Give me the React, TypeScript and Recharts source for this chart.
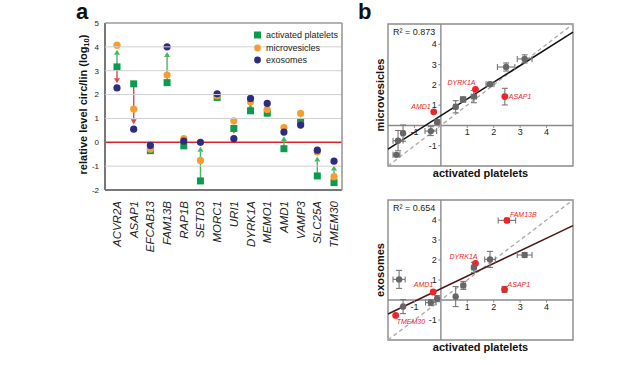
import React from "react";
import {
  ComposedChart,
  ScatterChart,
  Scatter,
  XAxis,
  YAxis,
  ReferenceLine,
  ReferenceArea,
  ReferenceDot,
  ErrorBar,
  Legend,
  Label,
} from "recharts";

const FONT = "'Liberation Sans', Arial, Helvetica, sans-serif";
const GREEN = "#0e9a4d";
const ORANGE = "#f59d2e";
const NAVY = "#2e2c7e";
const ARROW_UP = "#46b864";
const ARROW_DOWN = "#e5424b";
const RED = "#e8262c";
const GRAY = "#666";

// panel a
const genes = [
  "ACVR2A", "ASAP1", "EFCAB13", "FAM13B", "RAP1B", "SETD3", "MORC1",
  "URI1", "DYRK1A", "MEMO1", "AMD1", "VAMP3", "SLC25A", "TMEM30",
];
const platelets = [3.16, 2.45, -0.35, 2.5, -0.15, -1.62, 1.88, 0.58, 1.32, 1.22, -0.27, 0.86, -1.41, -1.69];
const microvesicles = [4.07, 1.39, -0.29, 2.82, 0.15, -0.76, 1.95, 0.9, 1.7, 1.37, 0.62, 1.21, -0.41, -1.44];
const exosomes = [2.28, 0.55, -0.13, 4.0, 0.05, 0.0, 2.03, 0.15, 1.84, 1.63, 0.43, 0.72, -0.33, -0.79];
const yTicksA = [-2, -1, 0, 1, 2, 3, 4, 5];

// arrows: gene, start, arrowhead tip
const arrowGenes = ["ACVR2A", "ACVR2A", "ASAP1", "FAM13B", "SETD3", "URI1", "URI1", "DYRK1A", "AMD1", "VAMP3", "SLC25A", "TMEM30"];
const arrowFrom = [3.16, 3.16, 2.45, 2.5, -1.62, 0.58, 0.58, 1.32, -0.27, 0.86, -1.41, -1.69];
const arrowTo = [3.88, 2.47, 0.76, 3.78, -0.19, 0.76, 0.36, 1.6, 0.25, 1.05, -0.6, -0.97];

const legendNames = ["activated platelets", "microvesicles", "exosomes"];

// panel b
const mvPlt = [3.17, 2.42, -0.38, 2.47, -0.14, -1.62, 1.86, 0.56, 1.31, 1.25, -0.27, 0.84, -1.43, -1.68];
const mvVal = [3.28, 1.42, -0.28, 2.88, 0.17, -0.75, 2.03, 0.92, 1.78, 1.42, 0.67, 1.28, -0.38, -1.45];
const mvPltErr = [0.28, 0, 0.22, 0.33, 0.08, 0.19, 0.15, 0.08, 0, 0.1, 0, 0.1, 0.05, 0.13];
const mvValErr = [0.2, 0.41, 0.22, 0.2, 0.08, 0.5, 0.1, 0.3, 0, 0.3, 0, 0.13, 0.4, 0];
const mvHighlight = ["AMD1", "DYRK1A", "ASAP1"];
const mvFit = [{ x: -2, y: -1.17 }, { x: 5, y: 4.6 }];

const exPlt = [3.17, 2.41, -0.38, 2.5, -0.14, -1.58, 1.86, 0.56, 1.31, 1.25, -0.29, 0.85, -1.43, -1.71];
const exVal = [2.25, 0.53, -0.13, 3.98, 0.07, 1.03, 2.03, 0.17, 1.83, 1.63, 0.4, 0.73, -0.33, -0.77];
const exPltErr = [0.28, 0, 0.2, 0.33, 0.05, 0.23, 0.2, 0.05, 0, 0.08, 0, 0.08, 0.05, 0];
const exValErr = [0.12, 0.15, 0.15, 0.1, 0.15, 0.45, 0.4, 0.5, 0, 0.25, 0, 0.2, 0.35, 0];
const exHighlight = ["FAM13B", "DYRK1A", "AMD1", "ASAP1", "TMEM30"];
const exFit = [{ x: -2, y: -0.7 }, { x: 5, y: 3.72 }];

const bTicks = [-1, 1, 2, 3, 4];

// where the red gene names sit around their points
const mvLabelPos: Record<string, [number, number, string]> = {
  AMD1: [-3, -3, "end"],
  DYRK1A: [0, -4, "end"],
  ASAP1: [4, 2.5, "start"],
};
const exLabelPos: Record<string, [number, number, string]> = {
  FAM13B: [3, -3, "start"],
  DYRK1A: [2, -4, "end"],
  AMD1: [0, -5, "end"],
  ASAP1: [3, -2, "start"],
  TMEM30: [1, 9, "start"],
};

// panel a layout
const A_W = 350;
const A_H = 365;
const A_MARGIN = { top: 23, right: 8, bottom: 115, left: 58 };
const A_YAXIS_W = 47;
const A_XAXIS_H = 60;
const A_LEFT = A_MARGIN.left + A_YAXIS_W;
const A_RIGHT = A_W - A_MARGIN.right;
const A_PLOT_H = A_H - A_MARGIN.top - A_MARGIN.bottom - A_XAXIS_H;

const rowsA = genes.map((g, i) => ({
  gene: g,
  plt: platelets[i],
  mv: microvesicles[i],
  ex: exosomes[i],
}));

const Square = (p: any) => (
  <rect x={p.cx - 3.5} y={p.cy - 3.5} width={7} height={7} fill={GREEN} />
);
const OrangeDot = (p: any) => <circle cx={p.cx} cy={p.cy} r={3.6} fill={ORANGE} />;
const NavyDot = (p: any) => <circle cx={p.cx} cy={p.cy} r={3.6} fill={NAVY} />;

const drawArrow = (p: any, color: string) => {
  const { x1, y1, x2, y2 } = p;
  const dir = y2 > y1 ? 1 : -1;
  const head = 5;
  return (
    <g>
      <line x1={x1} y1={y1} x2={x2} y2={y2 - dir * head} stroke={color} strokeWidth={1.4} />
      <polygon
        points={`${x2},${y2} ${x2 - 3},${y2 - dir * head} ${x2 + 3},${y2 - dir * head}`}
        fill={color}
      />
    </g>
  );
};
const ArrowUp = (p: any) => drawArrow(p, ARROW_UP);
const ArrowDown = (p: any) => drawArrow(p, ARROW_DOWN);

const GeneTick = (p: any) => {
  const x = p.x + 4;
  const y = p.y + 3;
  return (
    <text x={x} y={y} transform={`rotate(-90 ${x} ${y})`} textAnchor="end" fontStyle="italic" fontSize={11.5} fill="#222">
      {p.payload.value}
    </text>
  );
};

// y tick: label plus the horizontal grid line; the top tick also closes the frame
const YTickA = (p: any) => {
  const v = p.payload.value;
  const top = v === yTicksA[yTicksA.length - 1];
  return (
    <g>
      {v !== 0 && v !== yTicksA[0] && (
        <line x1={A_LEFT} x2={A_RIGHT} y1={p.y} y2={p.y} stroke={top ? "#9a9a9a" : "#d0d0d0"} strokeWidth={top ? 1.6 : 1} />
      )}
      {top && <line x1={A_RIGHT} x2={A_RIGHT} y1={p.y} y2={p.y + A_PLOT_H} stroke="#9a9a9a" strokeWidth={1.6} />}
      <text x={p.x} y={p.y + 2.8} textAnchor="end" fontSize={8} fill="#222">
        {v}
      </text>
    </g>
  );
};

const YLabelA = (p: any) => {
  const vb = p.viewBox;
  const x = vb.x + 25;
  const y = vb.y + vb.height / 2 - 2;
  return (
    <text x={x} y={y} transform={`rotate(-90 ${x} ${y})`} textAnchor="middle" dominantBaseline="central" fontSize={11} fontWeight="bold" fill="#111">
      relative level circ/lin (log<tspan fontSize={7.5} dy={3}>10</tspan>
      <tspan dy={-3}>)</tspan>
    </text>
  );
};

const LegendA = () => (
  <div style={{ fontSize: 9, color: "#222", lineHeight: "12.5px" }}>
    {legendNames.map((n, i) => (
      <div key={n} style={{ display: "flex", alignItems: "center" }}>
        <svg width={10} height={8} style={{ marginRight: 3 }}>
          {i === 0 ? (
            <rect x={1} y={0.5} width={7} height={7} fill={GREEN} />
          ) : (
            <circle cx={4.5} cy={4} r={3.4} fill={i === 1 ? ORANGE : NAVY} />
          )}
        </svg>
        {n}
      </div>
    ))}
  </div>
);

function PanelA() {
  return (
    <ComposedChart width={A_W} height={A_H} data={rowsA} margin={A_MARGIN}>
      <XAxis
        dataKey="gene"
        interval={0}
        padding={{ left: 12, right: 8 }}
        tickLine={false}
        axisLine={{ stroke: "#777", strokeWidth: 2 }}
        height={A_XAXIS_H}
        tick={<GeneTick />}
      />
      <YAxis
        domain={[-2, 5]}
        ticks={yTicksA}
        interval={0}
        width={A_YAXIS_W}
        tickLine={false}
        tickMargin={0}
        axisLine={{ stroke: "#777", strokeWidth: 2 }}
        tick={<YTickA />}
        label={<Label content={YLabelA} />}
      />
      <ReferenceLine y={0} stroke="#d9242d" strokeWidth={1.5} />
      {arrowGenes.map((g, i) => (
        <ReferenceLine
          key={"arr" + i}
          segment={[{ x: g, y: arrowFrom[i] }, { x: g, y: arrowTo[i] }]}
          shape={arrowTo[i] > arrowFrom[i] ? ArrowUp : ArrowDown}
        />
      ))}
      <Scatter dataKey="plt" name={legendNames[0]} fill={GREEN} shape={Square} isAnimationActive={false} />
      <Scatter dataKey="mv" name={legendNames[1]} fill={ORANGE} shape={OrangeDot} isAnimationActive={false} />
      <Scatter dataKey="ex" name={legendNames[2]} fill={NAVY} shape={NavyDot} isAnimationActive={false} />
      <Legend
        layout="vertical"
        align="center"
        verticalAlign="middle"
        content={<LegendA />}
        wrapperStyle={{ top: 29, left: 253, width: "auto" }}
      />
    </ComposedChart>
  );
}

function ScatterPanel(props: {
  x: number[];
  y: number[];
  xe: number[];
  ye: number[];
  highlight: string[];
  labelPos: Record<string, [number, number, string]>;
  fit: { x: number; y: number }[];
  fitColor: string;
  r2: string;
  yTitle: string;
  height: number;
  margin: { top: number; right: number; bottom: number; left: number };
  xAxisHeight: number;
}) {
  const rows = genes.map((g, i) => ({
    gene: g,
    x: props.x[i],
    y: props.y[i],
    xe: props.xe[i],
    ye: props.ye[i],
  }));
  const PointShape = (p: any) => {
    const g = p.payload.gene;
    if (!props.highlight.includes(g)) return <circle cx={p.cx} cy={p.cy} r={3.2} fill={GRAY} />;
    const pos = props.labelPos[g];
    return (
      <g>
        <circle cx={p.cx} cy={p.cy} r={3.4} fill={RED} />
        <text x={p.cx + pos[0]} y={p.cy + pos[1]} textAnchor={pos[2] as any} fontSize={7} fontStyle="italic" fill={RED}>
          {g}
        </text>
      </g>
    );
  };
  const XTick = (t: number) => (p: any) => (
    <g>
      <line x1={p.cx} y1={p.cy} x2={p.cx} y2={p.cy + 2.5} stroke="#888" />
      <text x={p.cx} y={p.cy + 10} textAnchor="middle" fontSize={9} fill="#222">{t}</text>
    </g>
  );
  const YTick = (t: number) => (p: any) => (
    <g>
      <line x1={p.cx - 2.5} y1={p.cy} x2={p.cx} y2={p.cy} stroke="#888" />
      <text x={p.cx - 4} y={p.cy + 3.2} textAnchor="end" fontSize={9} fill="#222">{t}</text>
    </g>
  );
  return (
    <ScatterChart width={240} height={props.height} margin={props.margin}>
      <XAxis
        type="number"
        dataKey="x"
        domain={[-2, 5]}
        allowDataOverflow
        tick={false}
        tickLine={false}
        axisLine={false}
        height={props.xAxisHeight}
        label={
          <Label
            content={(p: any) => (
              <text x={p.viewBox.x + p.viewBox.width / 2} y={p.viewBox.y + 11} textAnchor="middle" fontSize={11} fontWeight="bold" fill="#111">
                activated platelets
              </text>
            )}
          />
        }
      />
      <YAxis
        type="number"
        dataKey="y"
        domain={[-2, 5]}
        allowDataOverflow
        tick={false}
        tickLine={false}
        axisLine={false}
        width={20}
        label={
          <Label
            content={(p: any) => {
              const cx = p.viewBox.x + 12;
              const cy = p.viewBox.y + p.viewBox.height / 2;
              return (
                <text x={cx} y={cy} transform={`rotate(-90 ${cx} ${cy})`} textAnchor="middle" dominantBaseline="central" fontSize={11} fontWeight="bold" fill="#111">
                  {props.yTitle}
                </text>
              );
            }}
          />
        }
      />
      <ReferenceArea
        x1={-2}
        x2={5}
        y1={-2}
        y2={5}
        fill="none"
        stroke="#8a8a8a"
        strokeWidth={1.4}
        label={{ value: props.r2, position: "insideTopLeft", offset: 5, fontSize: 9, fill: "#222" }}
      />
      <ReferenceLine x={0} stroke="#8a8a8a" strokeWidth={1.4} />
      <ReferenceLine y={0} stroke="#8a8a8a" strokeWidth={1.4} />
      {bTicks.map((t) => (
        <ReferenceDot key={"xt" + t} x={t} y={0} r={2} shape={XTick(t)} />
      ))}
      {bTicks.map((t) => (
        <ReferenceDot key={"yt" + t} x={0} y={t} r={2} shape={YTick(t)} />
      ))}
      <ReferenceLine
        segment={[{ x: -2, y: -2 }, { x: 5, y: 5 }]}
        stroke="#a8a8a8"
        strokeWidth={1.3}
        strokeDasharray="4 3"
      />
      <ReferenceLine segment={props.fit} stroke={props.fitColor} strokeWidth={1.5} />
      <Scatter data={rows} shape={PointShape} isAnimationActive={false}>
        <ErrorBar dataKey="xe" direction="x" width={3} stroke="#777" strokeWidth={1.1} />
        <ErrorBar dataKey="ye" direction="y" width={3} stroke="#777" strokeWidth={1.1} />
      </Scatter>
    </ScatterChart>
  );
}

export default function App() {
  return (
    <div style={{ position: "absolute", left: 0, top: 0, width: 620, height: 365, background: "#fff", fontFamily: FONT }}>
      <div style={{ position: "absolute", left: 0, top: 0 }}>
        <PanelA />
      </div>
      <div style={{ position: "absolute", left: 350, top: 0 }}>
        <ScatterPanel
          x={mvPlt}
          y={mvVal}
          xe={mvPltErr}
          ye={mvValErr}
          highlight={mvHighlight}
          labelPos={mvLabelPos}
          fit={mvFit}
          fitColor="#111"
          r2="R² = 0.873"
          yTitle="microvesicles"
          height={185}
          margin={{ top: 24, right: 17, bottom: 0, left: 18 }}
          xAxisHeight={19}
        />
      </div>
      <div style={{ position: "absolute", left: 350, top: 185 }}>
        <ScatterPanel
          x={exPlt}
          y={exVal}
          xe={exPltErr}
          ye={exValErr}
          highlight={exHighlight}
          labelPos={exLabelPos}
          fit={exFit}
          fitColor="#4d1518"
          r2="R² = 0.654"
          yTitle="exosomes"
          height={180}
          margin={{ top: 15, right: 17, bottom: 5, left: 18 }}
          xAxisHeight={20}
        />
      </div>
      <div style={{ position: "absolute", left: 76, top: 1, fontSize: 22, fontWeight: "bold", lineHeight: "22px", color: "#111" }}>a</div>
      <div style={{ position: "absolute", left: 358, top: 1, fontSize: 22, fontWeight: "bold", lineHeight: "22px", color: "#111" }}>b</div>
    </div>
  );
}
